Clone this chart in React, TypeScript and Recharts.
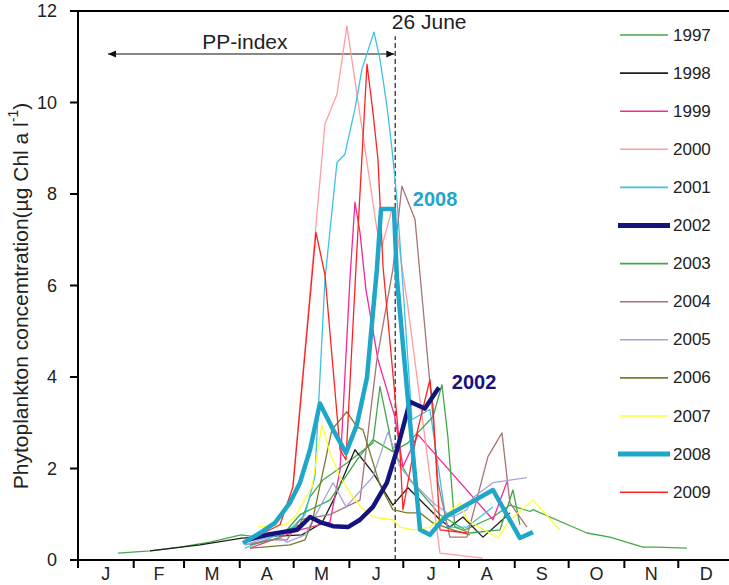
import React from 'react';
import { LineChart, Line, XAxis, YAxis, ReferenceLine, ReferenceDot, Legend } from 'recharts';

type P = [number, number];

// x = day of year, y = µg Chl a per litre
const monthLabels = ['J', 'F', 'M', 'A', 'M', 'J', 'J', 'A', 'S', 'O', 'N', 'D'];
const monthStarts = [0, 31, 59, 90, 120, 151, 181, 212, 243, 273, 304, 334, 365];
const monthMids = [15.5, 45, 74.5, 105, 135.5, 166, 196.5, 227.5, 258, 288.5, 319, 349.5];
const yTicks = [0, 2, 4, 6, 8, 10, 12];

const y1997: P[] = [[22.3, 0.15], [40.1, 0.2], [56.7, 0.28], [73.4, 0.39], [90.7, 0.55], [104.0, 0.48], [123.5, 0.77], [129.1, 1.38], [136.3, 1.75], [149.6, 2.12], [164.1, 2.56], [168.0, 3.79], [175.2, 2.41], [184.7, 1.75], [201.4, 0.99], [215.3, 0.66], [230.9, 0.94], [240.3, 1.2], [251.5, 1.06], [253.1, 1.1], [283.2, 0.59], [296.0, 0.5], [314.3, 0.28], [322.1, 0.28], [338.8, 0.26]];
const y1998: P[] = [[40.1, 0.2], [67.9, 0.33], [91.2, 0.48], [124.6, 0.55], [135.7, 0.81], [143.0, 1.38], [154.1, 2.41], [164.1, 1.91], [175.2, 1.2], [183.6, 1.58], [191.9, 1.25], [201.4, 0.88], [206.9, 0.72], [214.2, 0.94], [225.3, 0.5], [233.1, 0.77], [240.3, 1.03]];
const y1999: P[] = [[95.7, 0.26], [123.5, 0.66], [140.2, 0.83], [145.8, 1.97], [151.3, 6.13], [154.1, 7.82], [156.9, 7.16], [160.2, 5.91], [166.9, 4.38], [176.3, 3.13], [180.8, 2.04], [189.1, 2.74], [230.9, 0.88], [238.7, 1.71]];
const y2000: P[] = [[119.6, 1.64], [137.4, 9.53], [144.1, 10.18], [149.6, 11.67], [166.3, 7.23], [169.1, 6.85], [174.7, 7.67], [177.5, 7.16], [183.0, 5.69], [201.4, 0.15], [225.3, 0.04]];
const y2001: P[] = [[92.9, 0.26], [117.9, 0.66], [126.3, 0.99], [131.8, 1.82], [137.4, 6.13], [144.1, 8.69], [148.5, 8.87], [154.1, 9.86], [158.0, 10.73], [164.7, 11.54], [168.0, 10.95], [171.9, 9.92], [174.7, 8.98], [177.5, 7.88], [185.8, 3.07], [195.8, 3.29], [205.3, 0.72], [216.4, 0.72], [230.9, 1.16]];
const y2002: P[] = [[94.6, 0.44], [105.1, 0.55], [121.8, 0.66], [129.1, 0.94], [134.6, 0.83], [141.9, 0.74], [150.2, 0.72], [156.9, 0.88], [164.1, 1.16], [171.9, 1.69], [177.5, 2.41], [184.7, 3.46], [193.0, 3.31], [200.8, 3.77]];
const y2003: P[] = [[95.7, 0.33], [112.4, 0.48], [123.5, 0.99], [140.2, 1.31], [155.2, 2.19], [164.1, 2.63], [175.2, 2.37], [183.6, 2.56], [197.5, 3.13], [202.5, 3.83], [205.8, 2.69], [209.7, 0.72], [218.1, 0.59], [234.8, 0.66], [242.0, 1.53], [245.9, 0.77]];
const y2004: P[] = [[92.9, 0.33], [106.8, 0.44], [116.3, 0.44], [123.5, 0.88], [140.2, 0.99], [156.9, 1.31], [166.3, 4.38], [175.2, 6.35], [180.2, 8.17], [187.5, 7.45], [197.5, 3.13], [200.3, 1.69], [206.9, 0.5], [216.4, 0.5], [228.1, 2.26], [235.9, 2.78], [240.3, 1.25], [249.8, 0.72]];
const y2005: P[] = [[92.9, 0.33], [109.6, 0.55], [116.3, 0.39], [126.3, 0.55], [141.9, 1.69], [149.1, 1.16], [164.1, 1.82], [172.5, 2.8], [179.1, 2.04], [186.4, 1.69], [197.5, 1.25], [208.6, 0.94], [216.4, 1.1], [219.7, 1.36], [230.9, 1.69], [249.8, 1.8]];
const y2006: P[] = [[95.7, 0.26], [117.9, 0.33], [126.3, 0.44], [130.2, 0.81], [141.3, 2.85], [149.6, 3.24], [155.2, 2.91], [158.5, 2.85], [168.0, 1.64], [175.2, 1.1], [183.0, 1.03], [190.3, 1.03], [197.5, 0.81], [208.6, 0.66], [218.1, 0.55]];
const y2007: P[] = [[100.1, 0.72], [115.2, 0.77], [120.7, 0.94], [130.2, 1.6], [135.7, 2.96], [140.2, 2.34], [145.8, 1.82], [151.3, 1.47], [157.8, 1.14], [164.1, 0.94], [175.2, 0.88], [179.1, 0.72], [186.4, 0.66], [195.8, 0.72], [204.7, 0.99], [212.5, 1.25], [216.4, 0.88], [233.6, 0.48], [240.3, 0.88], [253.1, 1.31], [268.1, 0.66]];
const y2008: P[] = [[91.8, 0.37], [101.2, 0.59], [109.6, 0.81], [117.9, 1.25], [123.5, 1.69], [129.1, 2.41], [134.6, 3.42], [141.9, 2.85], [149.1, 2.34], [155.2, 2.96], [160.8, 3.99], [166.3, 6.35], [168.6, 7.67], [175.8, 7.67], [177.5, 6.13], [183.6, 3.5], [190.3, 0.66], [195.8, 0.55], [204.2, 0.94], [230.9, 1.53], [245.9, 0.48], [253.1, 0.61]];
const y2009: P[] = [[95.7, 0.44], [112.4, 0.77], [119.6, 1.6], [132.4, 7.16], [137.4, 6.24], [145.8, 2.41], [149.1, 2.19], [155.2, 6.79], [160.8, 10.84], [164.1, 9.79], [166.9, 8.76], [169.7, 6.42], [179.1, 2.41], [180.8, 1.1], [188.6, 2.78], [195.8, 3.94], [197.5, 3.35], [201.4, 0.66], [216.4, 0.59]];

const ppIndexStart = 16.7;
const june26 = 176.5;

type S = { name: string; data: P[]; color: string; width: number };
const series: S[] = [
  { name: '1997', data: y1997, color: '#45A84D', width: 1.3 },
  { name: '1998', data: y1998, color: '#1E1E1E', width: 1.3 },
  { name: '1999', data: y1999, color: '#F5279A', width: 1.3 },
  { name: '2000', data: y2000, color: '#FF9E9E', width: 1.3 },
  { name: '2001', data: y2001, color: '#3EC2E2', width: 1.3 },
  { name: '2002', data: y2002, color: '#15137E', width: 4.5 },
  { name: '2003', data: y2003, color: '#3FA846', width: 1.3 },
  { name: '2004', data: y2004, color: '#A87474', width: 1.3 },
  { name: '2005', data: y2005, color: '#A4A4DC', width: 1.3 },
  { name: '2006', data: y2006, color: '#7C7A2C', width: 1.3 },
  { name: '2007', data: y2007, color: '#FFFF2E', width: 1.3 },
  { name: '2008', data: y2008, color: '#1FA6C9', width: 4.5 },
  { name: '2009', data: y2009, color: '#FF2222', width: 1.3 },
];

const drawOrder = [...series.filter(s => s.width < 2), ...series.filter(s => s.width >= 2)];

const FONT = '"Liberation Sans", Arial, sans-serif';
const PX_PER_DAY = 656 / 365;

const YLabel = (props: any) => {
  const cx = 20;
  const cy = 296;
  return (
    <text x={cx} y={cy} transform={`rotate(-90 ${cx} ${cy})`} textAnchor="middle" dominantBaseline="central" fontSize={21} fill="#222" fontFamily={FONT}>
      Phytoplankton concemtration(µg Chl a l<tspan dy={-7} fontSize={14}>-1</tspan><tspan dy={7}>)</tspan>
    </text>
  );
};

const MonthTick = (props: any) => {
  const { x, payload, index } = props;
  const i = payload && payload.index !== undefined ? payload.index : index;
  if (i === undefined || i >= monthLabels.length) return <g />;
  const mx = x + (monthMids[i] - monthStarts[i]) * PX_PER_DAY;
  return (
    <text x={mx} y={580} textAnchor="middle" fontSize={18} fill="#222" fontFamily={FONT}>{monthLabels[i]}</text>
  );
};

const LegendContent = () => (
  <svg width={129} height={510} style={{ display: 'block' }}>
    {series.map((s, i) => {
      const y = 35 + i * 38.1;
      const thick = s.width >= 2;
      return (
        <g key={s.name}>
          <line x1={thick ? 18 : 20} x2={thick ? 70 : 68} y1={y} y2={y} stroke={s.color} strokeWidth={thick ? 5 : 1.6} />
          <text x={73} y={y} dominantBaseline="central" fontSize={17} fill="#222" fontFamily={FONT}>{s.name}</text>
        </g>
      );
    })}
  </svg>
);

const ArrowShape = (p: any) => {
  const { x1, y1, x2, y2 } = p;
  const h = 8, w = 3.5;
  return (
    <g>
      <line x1={x1} y1={y1} x2={x2} y2={y2} stroke="#111" strokeWidth={1.2} />
      <polygon points={`${x1},${y1} ${x1 + h},${y1 - w} ${x1 + h},${y1 + w}`} fill="#111" />
      <polygon points={`${x2},${y2} ${x2 - h},${y2 - w} ${x2 - h},${y2 + w}`} fill="#111" />
    </g>
  );
};

const textShape = (txt: string, anchor: 'start' | 'middle', color: string, bold: boolean, size: number) => (p: any) => (
  <text x={p.cx} y={p.cy} textAnchor={anchor} dominantBaseline="central" fontSize={size} fontWeight={bold ? 'bold' : 'normal'} fill={color} fontFamily={FONT}>{txt}</text>
);

export default function App() {
  return (
    <div style={{ position: 'absolute', left: 0, top: 0, width: 729, height: 585, overflow: 'hidden', background: '#fff' }}>
      <LineChart width={735} height={585} margin={{ top: 11, right: 1, bottom: 0, left: 0 }} style={{ fontFamily: FONT }}>
        <XAxis dataKey="d" type="number" domain={[0, 365]} ticks={monthStarts} interval={0} tickSize={8} height={25} allowDataOverflow
          stroke="#000" strokeWidth={2} tick={MonthTick} />
        <YAxis type="number" domain={[0, 12]} ticks={yTicks} interval={0} width={78} tickSize={8} tickMargin={13} allowDataOverflow
          stroke="#000" strokeWidth={2}
          tick={{ fill: '#222', fontSize: 18, fontFamily: FONT, strokeWidth: 0 }} label={YLabel} />
        <ReferenceLine segment={[{ x: 0, y: 12 }, { x: 365, y: 12 }]} stroke="#000" strokeWidth={2} />
        <ReferenceLine segment={[{ x: june26, y: 0 }, { x: june26, y: 11.45 }]} stroke="#333" strokeWidth={1.3} strokeDasharray="5 3" />
        <ReferenceLine segment={[{ x: ppIndexStart, y: 11.06 }, { x: june26 - 0.5, y: 11.06 }]} shape={ArrowShape} />
        {drawOrder.map(s => (
          <Line key={s.name} name={s.name} data={s.data.map(([d, v]) => ({ d, v }))} dataKey="v" type="linear"
            stroke={s.color} strokeWidth={s.width} dot={false} activeDot={false} isAnimationActive={false} strokeLinejoin="round" />
        ))}
        <ReferenceDot x={92.9} y={11.34} r={0} shape={textShape('PP-index', 'middle', '#222', false, 21)} />
        <ReferenceDot x={174.6} y={11.76} r={0} shape={textShape('26 June', 'start', '#222', false, 21)} />
        <ReferenceDot x={186.3} y={7.88} r={0} shape={textShape('2008', 'start', '#1FA6C9', true, 20)} />
        <ReferenceDot x={208.0} y={3.88} r={0} shape={textShape('2002', 'start', '#15137E', true, 20)} />
        <Legend layout="vertical" align="center" verticalAlign="middle" content={LegendContent}
          wrapperStyle={{ left: 600, top: 0, width: 129, height: 510 }} />
      </LineChart>
    </div>
  );
}
